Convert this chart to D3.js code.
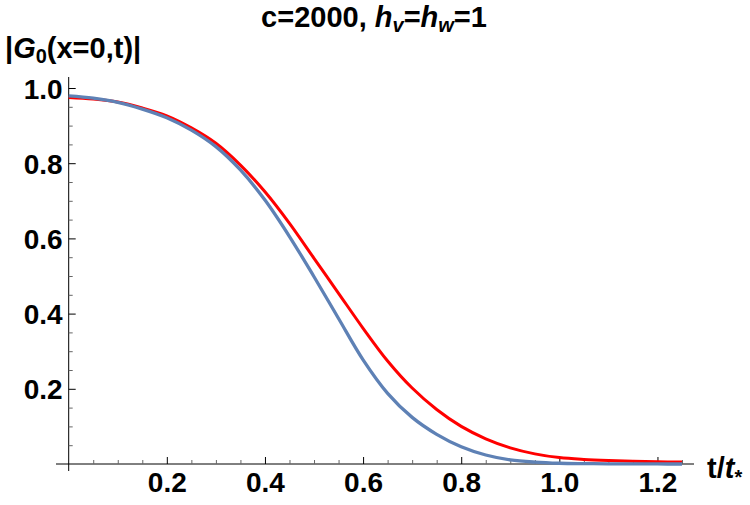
<!DOCTYPE html>
<html>
<head>
<meta charset="utf-8">
<script src="https://cdn.jsdelivr.net/npm/d3@7"></script>
<style>
  body { margin: 0; background: #fff; }
  svg text { font-family: "Liberation Sans", Arial, sans-serif; font-weight: bold; fill: #000; }
</style>
</head>
<body>
<div id="chart"></div>
<script>
/* DATA */
const tValues = [0, 0.05, 0.1, 0.15, 0.2, 0.25, 0.3, 0.35, 0.4, 0.45, 0.5, 0.55, 0.6,
  0.65, 0.7, 0.75, 0.8, 0.85, 0.9, 0.95, 1.0, 1.05, 1.1, 1.15, 1.2, 1.25];
const blueValues = [0.979, 0.973, 0.962, 0.944, 0.921, 0.888, 0.844, 0.782, 0.702, 0.605, 0.498, 0.387, 0.277,
  0.188, 0.124, 0.079, 0.046, 0.024, 0.011, 0.005, 0.002, 0.001, 0.0005, 0.0002, 0.0001, 0];
const redValues = [0.975, 0.971, 0.963, 0.947, 0.926, 0.894, 0.853, 0.795, 0.724, 0.640, 0.547, 0.454, 0.361,
  0.274, 0.202, 0.145, 0.100, 0.067, 0.043, 0.027, 0.017, 0.012, 0.009, 0.007, 0.006, 0.005];
const xMajor = [0.2, 0.4, 0.6, 0.8, 1.0, 1.2];
const yMajor = [0.2, 0.4, 0.6, 0.8, 1.0];

/* CONSTANTS */
const width = 750, height = 505;
const x0 = 68.7, x1 = 682, yBottom = 464, yTop = 88;
const labelSize = 28;

const svg = d3.select("#chart").append("svg")
  .attr("width", width)
  .attr("height", height);

const xScale = d3.scaleLinear().domain([0, 1.25]).range([x0, x1]);
const yScale = d3.scaleLinear().domain([0, 1]).range([yBottom, yTop]);

// minor ticks every 0.05, skipping majors
const xMinor = d3.range(1, 26).map(i => i * 0.05).filter(v => Math.abs(v * 5 - Math.round(v * 5)) > 1e-6);
const yMinor = d3.range(1, 20).map(i => i * 0.05).filter(v => Math.abs(v * 5 - Math.round(v * 5)) > 1e-6);

// axis lines
svg.append("line")
  .attr("x1", 56).attr("x2", 694)
  .attr("y1", yBottom).attr("y2", yBottom)
  .attr("stroke", "#000").attr("stroke-width", 1);
svg.append("line")
  .attr("x1", x0).attr("x2", x0)
  .attr("y1", 77).attr("y2", 471)
  .attr("stroke", "#000").attr("stroke-width", 1);

// x ticks
const xMinorAxis = svg.append("g")
  .attr("transform", `translate(0,${yBottom})`)
  .call(d3.axisBottom(xScale).tickValues(xMinor).tickSize(-4).tickFormat(""));
const xMajorAxis = svg.append("g")
  .attr("transform", `translate(0,${yBottom})`)
  .call(d3.axisBottom(xScale).tickValues(xMajor).tickSize(-7).tickPadding(8).tickFormat(d3.format(".1f")));

// y ticks
const yMinorAxis = svg.append("g")
  .attr("transform", `translate(${x0},0)`)
  .call(d3.axisLeft(yScale).tickValues(yMinor).tickSize(-4).tickFormat(""));
const yMajorAxis = svg.append("g")
  .attr("transform", `translate(${x0},0)`)
  .call(d3.axisLeft(yScale).tickValues(yMajor).tickSize(-7).tickPadding(6).tickFormat(d3.format(".1f")));

[xMinorAxis, xMajorAxis, yMinorAxis, yMajorAxis].forEach(g => {
  g.select(".domain").remove();
  g.attr("font-size", labelSize).attr("font-family", null);
});
xMinorAxis.selectAll("line").attr("stroke", "#666");
yMinorAxis.selectAll("line").attr("stroke", "#666");
xMajorAxis.selectAll("line").attr("stroke", "#000");
yMajorAxis.selectAll("line").attr("stroke", "#000");
yMajorAxis.selectAll("text").attr("dy", "0.36em");

// curves
const line = d3.line()
  .x((d, i) => xScale(tValues[i]))
  .y(d => yScale(d))
  .curve(d3.curveCatmullRom.alpha(0.5));

svg.append("path")
  .datum(redValues)
  .attr("fill", "none")
  .attr("stroke", "#ff0000")
  .attr("stroke-width", 3)
  .attr("d", line);

svg.append("path")
  .datum(blueValues)
  .attr("fill", "none")
  .attr("stroke", "#5e81b5")
  .attr("stroke-width", 3.3)
  .attr("d", line);

// title
const title = svg.append("text")
  .attr("x", 374).attr("y", 27)
  .attr("text-anchor", "middle")
  .attr("font-size", 29);
title.append("tspan").text("c=2000, ");
title.append("tspan").attr("font-style", "italic").text("h");
title.append("tspan").attr("font-style", "italic").attr("font-size", 20).attr("dy", 5).text("v");
title.append("tspan").attr("dy", -5).text("=");
title.append("tspan").attr("font-style", "italic").text("h");
title.append("tspan").attr("font-style", "italic").attr("font-size", 20).attr("dy", 5).text("w");
title.append("tspan").attr("dy", -5).text("=1");

// y axis label
const yLabel = svg.append("text")
  .attr("x", 5).attr("y", 58)
  .attr("font-size", 29);
yLabel.append("tspan").text("|");
yLabel.append("tspan").attr("font-style", "italic").text("G");
yLabel.append("tspan").attr("font-size", 20).attr("dy", 5).text("0");
yLabel.append("tspan").attr("dy", -5).text("(x=0,t)|");

// x axis label
const xLabel = svg.append("text")
  .attr("x", 707).attr("y", 478)
  .attr("font-size", 29);
xLabel.append("tspan").text("t/");
xLabel.append("tspan").attr("font-style", "italic").text("t");
xLabel.append("tspan").attr("font-size", 20).attr("dy", 6).text("*");
</script>
</body>
</html>
